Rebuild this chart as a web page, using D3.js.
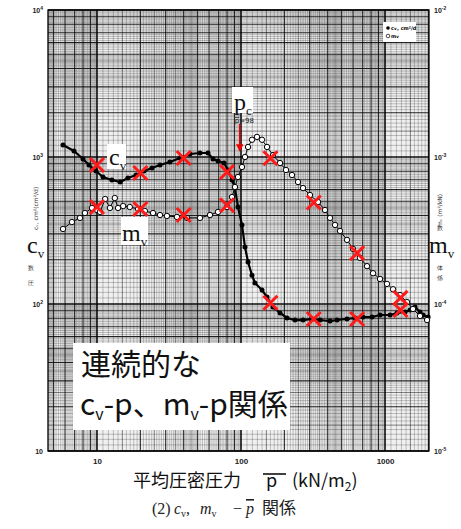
<!DOCTYPE html>
<html>
<head>
<meta charset="utf-8">
<script src="https://cdn.jsdelivr.net/npm/d3@7"></script>
<style>
body { margin: 0; background: #fff; }
</style>
</head>
<body>
<div id="chart"></div>
<script>
// c_v series (filled dots), p in kN/m2, c_v in cm2/d
const cvP = [5.81, 6.92, 8.0, 8.8, 9.84, 11.0, 12.7, 14.5, 16.4, 18.7, 21.2, 24.1, 27.4, 32.1, 37.7, 44.2, 51.9, 59.0,
  63.9, 69.2, 76.2, 81.2, 86.6, 90.8, 95.3, 101.6, 106.6, 111.9, 119.2, 125.0, 139.9, 151.6, 166.8, 186.6, 208.6,
  237.1, 269.6, 311.3, 354.2, 415.2, 464.2, 544.6, 619.2, 703.5, 812.2, 923.5, 1084, 1211, 1377, 1492, 1615, 1750, 1837, 1991];
const cvVal = [1208, 1099, 969, 883, 803, 731, 698, 676, 720, 754, 803, 842, 883, 925, 985, 1048, 1065, 1065,
  969, 939, 910, 816, 698, 615, 457, 345, 244, 193, 157, 139, 124.5, 111.6, 95.4, 86.9, 80.3,
  77.8, 77.8, 79.1, 77.8, 76.6, 77.8, 79.1, 80.3, 81.6, 81.6, 84.2, 84.2, 86.9, 88.2, 91.0, 95.4, 88.2, 84.2, 81.6];

// m_v series (open circles), m_v in m2/kN
const mvP = [5.81, 6.70, 7.62, 8.25, 9.23, 10.0, 10.5, 11.4, 12.3, 13.3, 14.0, 15.2, 16.9, 19.3, 21.5, 24.5, 27.4,
  30.6, 35.9, 42.2, 51.9, 60.9, 69.2, 80.0, 86.6, 90.8, 95.3, 101.6, 106.6, 111.9, 119.2, 129.1, 139.9, 151.6,
  166.8, 186.6, 205.4, 226.0, 248.8, 269.6, 301.3, 342.7, 383.1, 415.2, 449.6, 487.0, 544.6, 599.4, 669.5, 749.9,
  826.0, 923.5, 1032, 1137, 1271, 1422, 1563, 1750, 1958];
const mvVal = [3.24e-4, 3.61e-4, 3.85e-4, 4.16e-4, 4.50e-4, 4.36e-4, 4.23e-4, 5.18e-4, 4.50e-4, 5.26e-4, 4.50e-4,
  4.64e-4, 4.57e-4, 4.43e-4, 4.29e-4, 4.16e-4, 4.03e-4, 3.97e-4, 3.91e-4, 3.85e-4, 3.85e-4, 4.03e-4, 4.23e-4,
  4.57e-4, 5.34e-4, 6.25e-4, 7.31e-4, 8.55e-4, 1.0e-3, 1.17e-3, 1.31e-3, 1.37e-3, 1.31e-3, 1.17e-3, 1.03e-3,
  9.10e-4, 8.16e-4, 7.54e-4, 6.76e-4, 6.15e-4, 5.51e-4, 4.94e-4, 4.36e-4, 3.85e-4, 3.45e-4, 3.14e-4, 2.73e-4,
  2.37e-4, 2.06e-4, 1.81e-4, 1.62e-4, 1.48e-4, 1.37e-4, 1.26e-4, 1.15e-4, 1.03e-4, 9.25e-5, 8.29e-5, 7.78e-5];

// red x marks (stepwise test values)
const markP = [10, 20, 40, 80, 160, 320, 640, 1280];
const markCv = [883, 778, 984, 791, 102, 79, 79, 91];
const markMv = [4.57e-4, 4.43e-4, 4.03e-4, 4.7e-4, 9.8e-4, 4.9e-4, 2.22e-4, 1.1e-4];

const pc = 98;

const xTicks = [10, 100, 1000];
const cvTicks = [10, 100, 1000, 10000];
const cvTickExp = ["", "2", "3", "4"];
const mvTicks = [1e-5, 1e-4, 1e-3, 1e-2];
const mvTickExp = ["-5", "-4", "-3", "-2"];

const width = 461, height = 529;
const plot = { left: 48, right: 429, top: 10, bottom: 451 };

const svg = d3.select("#chart").append("svg")
  .attr("width", width)
  .attr("height", height)
  .style("font-family", "'DejaVu Sans', sans-serif");

const x = d3.scaleLog().domain([4.57, 2020]).range([plot.left, plot.right]);
const y = d3.scaleLog().domain([10, 10000]).range([plot.bottom, plot.top]);
const yR = d3.scaleLog().domain([1e-5, 1e-2]).range([plot.bottom, plot.top]);

// log graph paper lines
function logLines(lo, hi) {
  let out = [];
  for (let e = Math.floor(Math.log10(lo)); e <= Math.ceil(Math.log10(hi)); e++) {
    let b = Math.pow(10, e);
    let k = 1;
    while (k < 10 - 1e-9) {
      let v = k * b;
      if (v >= lo * 0.999 && v <= hi * 1.001) {
        let lvl = Math.abs(k - 1) < 1e-9 ? 3 : (Math.abs(k - Math.round(k)) < 1e-9 ? 2 :
          (Math.abs(k * 2 - Math.round(k * 2)) < 1e-9 ? 1 : 0));
        out.push({ v: v, lvl: lvl });
      }
      k += k < 5 - 1e-9 ? 0.1 : 0.2;
      k = Math.round(k * 10) / 10;
    }
  }
  return out;
}

const grid = svg.append("g");
const lineStyle = [
  { w: 0.6, o: 0.38 },
  { w: 0.8, o: 0.6 },
  { w: 1.1, o: 0.85 },
  { w: 1.6, o: 0.95 }
];

grid.append("rect")
  .attr("x", plot.left).attr("y", plot.top)
  .attr("width", plot.right - plot.left).attr("height", plot.bottom - plot.top)
  .attr("fill", "#f0f0f0");

grid.selectAll(".gx").data(logLines(4.57, 2020)).enter()
  .append("line")
  .attr("x1", d => x(d.v)).attr("x2", d => x(d.v))
  .attr("y1", plot.top).attr("y2", plot.bottom)
  .attr("stroke", "#000")
  .attr("stroke-width", d => lineStyle[d.lvl].w)
  .attr("stroke-opacity", d => lineStyle[d.lvl].o);

grid.selectAll(".gy").data(logLines(10, 10000)).enter()
  .append("line")
  .attr("y1", d => y(d.v)).attr("y2", d => y(d.v))
  .attr("x1", plot.left).attr("x2", plot.right)
  .attr("stroke", "#000")
  .attr("stroke-width", d => lineStyle[d.lvl].w)
  .attr("stroke-opacity", d => lineStyle[d.lvl].o);

svg.append("rect")
  .attr("x", plot.left).attr("y", plot.top)
  .attr("width", plot.right - plot.left).attr("height", plot.bottom - plot.top)
  .attr("fill", "none").attr("stroke", "#000").attr("stroke-width", 1.3);

// axes
let xAxis = svg.append("g")
  .attr("transform", "translate(0," + (plot.bottom + 4) + ")")
  .call(d3.axisBottom(x).tickValues(xTicks).tickFormat(d3.format("d")).tickSize(0));
xAxis.select(".domain").remove();
xAxis.selectAll("text").attr("font-size", "8px").attr("font-weight", "bold").attr("fill", "#222");

function supLabels(axisG, exps) {
  axisG.select(".domain").remove();
  axisG.selectAll(".tick text").each(function(d, i) {
    let t = d3.select(this);
    t.text(null).attr("font-size", "7px").attr("font-weight", "bold").attr("fill", "#222");
    t.append("tspan").text("10");
    if (exps[i]) t.append("tspan").attr("dy", "-3").attr("font-size", "5px").text(exps[i]);
  });
}

let yAxisL = svg.append("g")
  .attr("transform", "translate(" + (plot.left - 2) + ",0)")
  .call(d3.axisLeft(y).tickValues(cvTicks).tickSize(0));
supLabels(yAxisL, cvTickExp);

let yAxisR = svg.append("g")
  .attr("transform", "translate(" + (plot.right + 2) + ",0)")
  .call(d3.axisRight(yR).tickValues(mvTicks).tickSize(0));
supLabels(yAxisR, mvTickExp);

// series
const cvData = cvP.map((p, i) => ({ p: p, v: cvVal[i] }));
const mvData = mvP.map((p, i) => ({ p: p, v: mvVal[i] }));

svg.append("path")
  .datum(cvData)
  .attr("fill", "none").attr("stroke", "#000").attr("stroke-width", 2.2)
  .attr("d", d3.line().x(d => x(d.p)).y(d => y(d.v)));

svg.append("g").selectAll("circle").data(cvData).enter()
  .append("circle")
  .attr("cx", d => x(d.p)).attr("cy", d => y(d.v)).attr("r", 2.5)
  .attr("fill", "#000");

svg.append("path")
  .datum(mvData)
  .attr("fill", "none").attr("stroke", "#000").attr("stroke-width", 1)
  .attr("d", d3.line().x(d => x(d.p)).y(d => yR(d.v)));

svg.append("g").selectAll("circle").data(mvData).enter()
  .append("circle")
  .attr("cx", d => x(d.p)).attr("cy", d => yR(d.v)).attr("r", 2.7)
  .attr("fill", "#fff").attr("stroke", "#000").attr("stroke-width", 1);

// legend box
const lg = svg.append("g");
lg.append("rect").attr("x", 383).attr("y", 22).attr("width", 33).attr("height", 20).attr("fill", "#fff");
lg.append("circle").attr("cx", 388).attr("cy", 28).attr("r", 1.8).attr("fill", "#000");
lg.append("text").attr("x", 391).attr("y", 30).attr("font-size", "5px").attr("font-weight", "bold")
  .text("c").append("tspan").attr("font-size", "4px").text("v");
lg.append("text").attr("x", 397).attr("y", 30).attr("font-size", "5px").attr("font-weight", "bold").text(", cm²/d");
lg.append("circle").attr("cx", 388).attr("cy", 36).attr("r", 1.8).attr("fill", "#fff").attr("stroke", "#000").attr("stroke-width", 0.7);
lg.append("text").attr("x", 391).attr("y", 38).attr("font-size", "5px").attr("font-weight", "bold")
  .text("m").append("tspan").attr("font-size", "4px").text("v");

// red x marks
function drawMarks(vals, scale) {
  svg.append("g").selectAll("path").data(markP.map((p, i) => ({ p: p, v: vals[i] }))).enter()
    .append("path")
    .attr("transform", d => "translate(" + x(d.p) + "," + scale(d.v) + ")")
    .attr("d", "M-7,-7L7,7M-7,7L7,-7")
    .attr("stroke", "#ff1a1a").attr("stroke-width", 3);
}
drawMarks(markCv, y);
drawMarks(markMv, yR);

// white-boxed serif labels
function subLabel(bx, by, bw, bh, tx, ty, main, sub, size) {
  svg.append("rect").attr("x", bx).attr("y", by).attr("width", bw).attr("height", bh).attr("fill", "#fff");
  let t = svg.append("text").attr("x", tx).attr("y", ty)
    .attr("font-family", "'Liberation Serif', serif").attr("font-size", size + "px").attr("fill", "#111");
  t.append("tspan").text(main);
  t.append("tspan").attr("dy", size * 0.22).attr("font-size", (size * 0.55) + "px").text(sub);
}
subLabel(107, 144, 19, 25, 109, 165, "c", "v", 24);
subLabel(121, 217, 27, 28, 122, 241, "m", "v", 24);
subLabel(232, 87, 21, 26, 234, 110, "p", "c", 24);

// left / right outside labels
svg.append("text").attr("font-size", "6px").attr("fill", "#333")
  .attr("transform", "rotate(-90,36,208)").attr("x", 14).attr("y", 210).text("cᵥ, cm²(cm²/d)");
let lt = svg.append("text").attr("x", 27).attr("y", 253)
  .attr("font-family", "'Liberation Serif', serif").attr("font-size", "24px").attr("fill", "#111");
lt.append("tspan").text("c");
lt.append("tspan").attr("dy", 5).attr("font-size", "13px").text("v");
svg.append("text").attr("x", 28).attr("y", 270).attr("font-size", "6px").attr("fill", "#333").text("数");
svg.append("text").attr("x", 28).attr("y", 285).attr("font-size", "6px").attr("fill", "#333").text("圧");

svg.append("text").attr("font-size", "6px").attr("fill", "#333")
  .attr("transform", "rotate(-90,440,205)").attr("x", 418).attr("y", 207).text("mᵥ  (m²/kN)");
let rt = svg.append("text").attr("x", 429).attr("y", 253)
  .attr("font-family", "'Liberation Serif', serif").attr("font-size", "24px").attr("fill", "#111");
rt.append("tspan").text("m");
rt.append("tspan").attr("dy", 5).attr("font-size", "13px").text("v");
svg.append("text").attr("x", 437).attr("y", 230).attr("font-size", "6px").attr("fill", "#333").text("数");
svg.append("text").attr("x", 437).attr("y", 270).attr("font-size", "6px").attr("fill", "#333").text("体");
svg.append("text").attr("x", 437).attr("y", 280).attr("font-size", "6px").attr("fill", "#333").text("係");

// consolidation yield stress arrow
svg.append("defs").append("marker")
  .attr("id", "ah").attr("viewBox", "0 0 10 10").attr("refX", 9).attr("refY", 5)
  .attr("markerWidth", 5).attr("markerHeight", 5).attr("orient", "auto")
  .append("path").attr("d", "M0,0L10,5L0,10z").attr("fill", "#e00");
svg.append("line")
  .attr("x1", x(pc)).attr("x2", x(pc)).attr("y1", 124).attr("y2", 151)
  .attr("stroke", "#e00").attr("stroke-width", 1.5).attr("marker-end", "url(#ah)");
let pt = svg.append("text").attr("x", x(pc) - 5).attr("y", 123).attr("font-size", "7px").attr("fill", "#222");
pt.append("tspan").attr("text-decoration", "overline").text("p");
pt.append("tspan").text("=98");

// big annotation box
svg.append("rect").attr("x", 73).attr("y", 343).attr("width", 217).attr("height", 87).attr("fill", "#fff");
svg.append("text").attr("x", 81).attr("y", 375)
  .attr("font-family", "'Noto Sans CJK JP', sans-serif").attr("font-size", "30px").attr("fill", "#111")
  .text("連続的な");
let bt = svg.append("text").attr("x", 80).attr("y", 415)
  .attr("font-family", "'Noto Sans CJK JP', sans-serif").attr("font-size", "30px").attr("fill", "#111");
bt.append("tspan").text("c");
bt.append("tspan").attr("dy", 5).attr("font-size", "16px").text("v");
bt.append("tspan").attr("dy", -5).text("-p、m");
bt.append("tspan").attr("dy", 5).attr("font-size", "16px").text("v");
bt.append("tspan").attr("dy", -5).text("-p関係");

// x axis title
let xt = svg.append("text").attr("x", 133).attr("y", 487)
  .attr("font-family", "'Noto Sans CJK JP', sans-serif").attr("font-size", "18px").attr("fill", "#111");
xt.append("tspan").text("平均圧密圧力");
xt.append("tspan").attr("x", 266).text("p");
xt.append("tspan").attr("x", 292).text("(kN/m");
xt.append("tspan").attr("dy", 4).attr("font-size", "12px").text("2");
xt.append("tspan").attr("dy", -4).text(")");
svg.append("line").attr("x1", 263).attr("x2", 286).attr("y1", 474).attr("y2", 474)
  .attr("stroke", "#111").attr("stroke-width", 1.6);

// caption
const capFont = "'Liberation Serif', serif";
function capText(tx, str, italic, sub) {
  let t = svg.append("text").attr("x", tx).attr("y", 514)
    .attr("font-family", capFont).attr("font-size", "16px").attr("fill", "#222");
  let m = t.append("tspan").text(str);
  if (italic) m.attr("font-style", "italic");
  if (sub) t.append("tspan").attr("dy", 3).attr("font-size", "10px").text(sub);
  return t;
}
capText(152, "(2)", false);
capText(174, "c", true, "v").append("tspan").attr("dy", -3).text(",");
capText(200, "m", true, "v");
capText(233, "−", false);
capText(246, "p", true).attr("text-decoration", "overline");
svg.append("text").attr("x", 262).attr("y", 514)
  .attr("font-family", "'Noto Sans CJK JP', sans-serif").attr("font-size", "17px").attr("fill", "#222").text("関係");
</script>
</body>
</html>
